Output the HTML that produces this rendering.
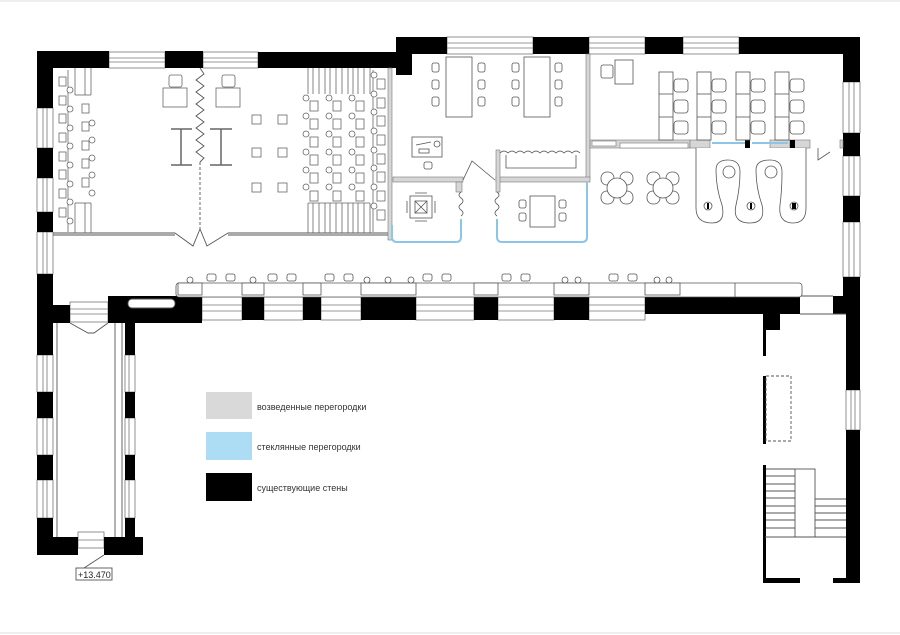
<!DOCTYPE html>
<html><head><meta charset="utf-8"><style>
html,body{margin:0;padding:0;background:#fff}
svg{display:block}
text{font-family:"Liberation Sans",sans-serif}
</style></head><body>
<svg width="900" height="635" viewBox="0 0 900 635" xmlns="http://www.w3.org/2000/svg">
<rect width="900" height="635" fill="#fff"/>
<line x1="0" y1="1" x2="900" y2="1" stroke="#ddd"/>
<line x1="0" y1="633" x2="900" y2="633" stroke="#ddd"/>

<!-- windows (white with lines) -->
<g fill="#fff" stroke="#777" stroke-width="0.8">
<rect x="109" y="52" width="56" height="16"/><line x1="109" y1="58" x2="165" y2="58"/><line x1="109" y1="62" x2="165" y2="62"/>
<rect x="203" y="52" width="55" height="16"/><line x1="203" y1="58" x2="258" y2="58"/><line x1="203" y1="62" x2="258" y2="62"/>
<rect x="447" y="37" width="86" height="17"/><line x1="447" y1="43" x2="533" y2="43"/><line x1="447" y1="48" x2="533" y2="48"/>
<rect x="589" y="37" width="56" height="17"/><line x1="589" y1="43" x2="645" y2="43"/><line x1="589" y1="48" x2="645" y2="48"/>
<rect x="683" y="37" width="56" height="17"/><line x1="683" y1="43" x2="739" y2="43"/><line x1="683" y1="48" x2="739" y2="48"/>
<!-- left wall windows -->
<rect x="37" y="108" width="16" height="40"/><line x1="43" y1="108" x2="43" y2="148"/><line x1="47" y1="108" x2="47" y2="148"/>
<rect x="37" y="178" width="16" height="34"/><line x1="43" y1="178" x2="43" y2="212"/><line x1="47" y1="178" x2="47" y2="212"/>
<rect x="37" y="232" width="16" height="42"/><line x1="43" y1="232" x2="43" y2="274"/><line x1="47" y1="232" x2="47" y2="274"/>
<!-- right wall windows -->
<rect x="843" y="82" width="17" height="51"/><line x1="849" y1="82" x2="849" y2="133"/><line x1="854" y1="82" x2="854" y2="133"/>
<rect x="843" y="156" width="17" height="40"/><line x1="849" y1="156" x2="849" y2="196"/><line x1="854" y1="156" x2="854" y2="196"/>
<rect x="843" y="222" width="17" height="55"/><line x1="849" y1="222" x2="849" y2="277"/><line x1="854" y1="222" x2="854" y2="277"/>
<rect x="846" y="390" width="14" height="40"/><line x1="851" y1="390" x2="851" y2="430"/><line x1="855" y1="390" x2="855" y2="430"/>
<!-- corridor south windows -->
<rect x="70" y="302" width="38" height="20"/><line x1="70" y1="309" x2="108" y2="309"/><line x1="70" y1="314" x2="108" y2="314"/>
<rect x="202" y="297" width="40" height="23"/><line x1="202" y1="305" x2="242" y2="305"/><line x1="202" y1="311" x2="242" y2="311"/>
<rect x="264" y="297" width="39" height="23"/><line x1="264" y1="305" x2="303" y2="305"/><line x1="264" y1="311" x2="303" y2="311"/>
<rect x="321" y="297" width="40" height="23"/><line x1="321" y1="305" x2="361" y2="305"/><line x1="321" y1="311" x2="361" y2="311"/>
<rect x="416" y="297" width="58" height="23"/><line x1="416" y1="305" x2="474" y2="305"/><line x1="416" y1="311" x2="474" y2="311"/>
<rect x="498" y="297" width="56" height="23"/><line x1="498" y1="305" x2="554" y2="305"/><line x1="498" y1="311" x2="554" y2="311"/>
<rect x="589" y="297" width="56" height="23"/><line x1="589" y1="305" x2="645" y2="305"/><line x1="589" y1="311" x2="645" y2="311"/>
<!-- lower-left wing windows -->
<rect x="37" y="355" width="16" height="37"/><line x1="43" y1="355" x2="43" y2="392"/><line x1="47" y1="355" x2="47" y2="392"/>
<rect x="37" y="418" width="16" height="37"/><line x1="43" y1="418" x2="43" y2="455"/><line x1="47" y1="418" x2="47" y2="455"/>
<rect x="37" y="480" width="16" height="38"/><line x1="43" y1="480" x2="43" y2="518"/><line x1="47" y1="480" x2="47" y2="518"/>
<rect x="125" y="355" width="10" height="37"/><line x1="129" y1="355" x2="129" y2="392"/>
<rect x="125" y="418" width="10" height="37"/><line x1="129" y1="418" x2="129" y2="455"/>
<rect x="125" y="480" width="10" height="38"/><line x1="129" y1="480" x2="129" y2="518"/>
<rect x="78" y="532" width="26" height="16"/><line x1="78" y1="540" x2="104" y2="540"/>
</g>

<!-- black existing walls -->
<g fill="#000">
<rect x="37" y="51" width="72" height="17"/>
<rect x="165" y="51" width="38" height="17"/>
<rect x="258" y="52" width="154" height="16"/>
<rect x="396" y="37" width="51" height="17"/>
<rect x="396" y="37" width="16" height="38"/>
<rect x="533" y="37" width="56" height="17"/>
<rect x="645" y="37" width="38" height="17"/>
<rect x="739" y="37" width="121" height="17"/>
<rect x="37" y="51" width="16" height="57"/>
<rect x="37" y="148" width="16" height="30"/>
<rect x="37" y="212" width="16" height="20"/>
<rect x="37" y="274" width="16" height="50"/>
<rect x="37" y="305" width="33" height="18"/>
<rect x="108" y="296" width="94" height="27"/>
<rect x="242" y="296" width="22" height="24"/>
<rect x="303" y="296" width="18" height="24"/>
<rect x="361" y="296" width="55" height="24"/>
<rect x="474" y="296" width="24" height="24"/>
<rect x="554" y="296" width="35" height="24"/>
<rect x="645" y="296" width="155" height="18"/>
<rect x="833" y="296" width="27" height="18"/>
<rect x="763" y="313" width="17" height="17"/>
<rect x="843" y="37" width="17" height="45"/>
<rect x="843" y="133" width="17" height="23"/>
<rect x="843" y="196" width="17" height="26"/>
<rect x="843" y="277" width="17" height="37"/>
<rect x="846" y="296" width="14" height="94"/>
<rect x="846" y="430" width="14" height="153"/>
<rect x="763" y="578" width="37" height="5"/>
<rect x="833" y="578" width="27" height="5"/>
<rect x="763" y="315" width="3" height="41"/>
<rect x="763" y="376" width="3" height="68"/>
<rect x="763" y="465" width="3" height="118"/>
<!-- lower-left wing -->
<rect x="37" y="323" width="16" height="32"/>
<rect x="37" y="392" width="16" height="26"/>
<rect x="37" y="455" width="16" height="25"/>
<rect x="37" y="518" width="16" height="37"/>
<rect x="37" y="537" width="41" height="18"/>
<rect x="104" y="537" width="39" height="18"/>
<rect x="125" y="323" width="10" height="32"/>
<rect x="125" y="392" width="10" height="26"/>
<rect x="125" y="455" width="10" height="25"/>
<rect x="125" y="518" width="10" height="19"/>
</g>

<!-- interior lines -->
<g fill="none" stroke="#555" stroke-width="0.9">
<rect x="128" y="299" width="47" height="9" rx="4" fill="#fff"/>
<line x1="53" y1="233" x2="175" y2="233"/><line x1="53" y1="235" x2="175" y2="235"/>
<line x1="228" y1="233" x2="390" y2="233"/><line x1="228" y1="235" x2="390" y2="235"/>
<polyline points="175,233 193,246 200,229 207,246 228,233"/>
<line x1="200" y1="162" x2="200" y2="229" stroke-dasharray="3,2"/>
<polyline points="200,68 204,74 196,80 204,86 196,92 204,98 196,104 204,110 196,116 204,122 196,128 204,134 196,140 204,146 196,152 204,158 200,162"/>
<!-- lower-left wing interior -->
<line x1="57" y1="323" x2="57" y2="537"/><line x1="115" y1="323" x2="115" y2="537"/><line x1="122" y1="323" x2="122" y2="537"/>
<polyline points="70,323 88,333 94,333 108,323"/>
<!-- stair right -->
<line x1="765" y1="537" x2="846" y2="537"/>
<rect x="795" y="469" width="20" height="68"/>
<line x1="766" y1="469" x2="795" y2="469"/><line x1="766" y1="476" x2="795" y2="476"/><line x1="766" y1="484" x2="795" y2="484"/><line x1="766" y1="491" x2="795" y2="491"/><line x1="766" y1="498" x2="795" y2="498"/><line x1="766" y1="506" x2="795" y2="506"/><line x1="766" y1="513" x2="795" y2="513"/><line x1="766" y1="520" x2="795" y2="520"/><line x1="766" y1="528" x2="795" y2="528"/>
<line x1="815" y1="499" x2="846" y2="499"/><line x1="815" y1="506" x2="846" y2="506"/><line x1="815" y1="513" x2="846" y2="513"/><line x1="815" y1="520" x2="846" y2="520"/><line x1="815" y1="528" x2="846" y2="528"/>
<rect x="766" y="376" width="25" height="65" stroke-dasharray="3,2"/>
<line x1="800" y1="296" x2="833" y2="296"/><line x1="800" y1="314" x2="846" y2="314"/>
<!-- elevation label -->
<polyline points="104,555 84,568"/>
<rect x="76" y="568" width="36" height="12" fill="#fff"/>
</g>
<text x="78" y="578" font-size="9" fill="#222">+13.470</text>

<!-- corridor desks -->
<g fill="#fff" stroke="#555" stroke-width="0.8">
<rect x="176" y="283" width="626" height="14" rx="3"/>
<rect x="178" y="283" width="24" height="12"/><rect x="242" y="283" width="22" height="12"/><rect x="303" y="283" width="18" height="12"/>
<rect x="361" y="283" width="55" height="12"/><rect x="474" y="283" width="24" height="12"/><rect x="554" y="283" width="35" height="12"/><rect x="645" y="283" width="35" height="12"/>
<line x1="735" y1="283" x2="735" y2="297"/>
<circle cx="190" cy="280" r="3"/><circle cx="253" cy="280" r="3"/><circle cx="367" cy="280" r="3"/><circle cx="388" cy="280" r="3"/><circle cx="411" cy="280" r="3"/><circle cx="565" cy="280" r="3"/><circle cx="578" cy="280" r="3"/><circle cx="657" cy="280" r="3"/><circle cx="669" cy="280" r="3"/>
<rect x="207" y="274" width="9" height="7" rx="2"/><rect x="226" y="274" width="9" height="7" rx="2"/>
<rect x="268" y="274" width="9" height="7" rx="2"/><rect x="287" y="274" width="9" height="7" rx="2"/>
<rect x="325" y="274" width="9" height="7" rx="2"/><rect x="344" y="274" width="9" height="7" rx="2"/>
<rect x="423" y="274" width="9" height="7" rx="2"/><rect x="442" y="274" width="9" height="7" rx="2"/>
<rect x="502" y="274" width="9" height="7" rx="2"/><rect x="521" y="274" width="9" height="7" rx="2"/>
<rect x="609" y="274" width="9" height="7" rx="2"/><rect x="628" y="274" width="9" height="7" rx="2"/>
</g>

<!-- left room furniture -->
<g fill="#fff" stroke="#666" stroke-width="0.8">
<line x1="75" y1="68" x2="75" y2="95"/><line x1="85" y1="68" x2="85" y2="95"/><line x1="91" y1="68" x2="91" y2="95"/><line x1="75" y1="95" x2="91" y2="95"/>
<line x1="75" y1="203" x2="75" y2="233"/><line x1="85" y1="203" x2="85" y2="233"/><line x1="91" y1="203" x2="91" y2="233"/><line x1="75" y1="203" x2="91" y2="203"/>
<line x1="68" y1="70" x2="68" y2="232"/>
<rect x="59" y="77" width="7" height="9"/><rect x="59" y="96" width="7" height="9"/><rect x="59" y="114" width="7" height="9"/><rect x="59" y="133" width="7" height="9"/><rect x="59" y="152" width="7" height="9"/><rect x="59" y="170" width="7" height="9"/><rect x="59" y="189" width="7" height="9"/><rect x="59" y="208" width="7" height="9"/>
<circle cx="70" cy="90" r="3"/><circle cx="70" cy="109" r="3"/><circle cx="70" cy="128" r="3"/><circle cx="70" cy="146" r="3"/><circle cx="70" cy="165" r="3"/><circle cx="70" cy="184" r="3"/><circle cx="70" cy="202" r="3"/><circle cx="70" cy="221" r="3"/>
<rect x="82" y="104" width="7" height="9"/><rect x="82" y="122" width="7" height="9"/><rect x="82" y="141" width="7" height="9"/><rect x="82" y="159" width="7" height="9"/><rect x="82" y="178" width="7" height="9"/>
<circle cx="92" cy="123" r="3"/><circle cx="92" cy="140" r="3"/><circle cx="92" cy="158" r="3"/><circle cx="92" cy="175" r="3"/><circle cx="92" cy="193" r="3"/>
<rect x="163" y="88" width="24" height="19"/><rect x="169" y="75" width="13" height="12" rx="2"/>
<rect x="216" y="88" width="24" height="19"/><rect x="222" y="75" width="13" height="12" rx="2"/>
<rect x="252" y="115" width="9" height="9"/><rect x="278" y="115" width="9" height="9"/>
<rect x="252" y="148" width="9" height="9"/><rect x="278" y="148" width="9" height="9"/>
<rect x="252" y="183" width="9" height="9"/><rect x="278" y="183" width="9" height="9"/>
</g>
<g stroke="#666" stroke-width="1.5" fill="none">
<line x1="171" y1="129" x2="192" y2="129"/><line x1="181" y1="129" x2="181" y2="165"/><line x1="171" y1="165" x2="192" y2="165"/>
<line x1="210" y1="129" x2="232" y2="129"/><line x1="221" y1="129" x2="221" y2="165"/><line x1="210" y1="165" x2="232" y2="165"/>
</g>
<g fill="#fff" stroke="#666" stroke-width="0.8">
<line x1="308" y1="68" x2="308" y2="94"/><line x1="313" y1="68" x2="313" y2="94"/><line x1="319" y1="68" x2="319" y2="94"/><line x1="325" y1="68" x2="325" y2="94"/>
<line x1="330" y1="68" x2="330" y2="94"/><line x1="336" y1="68" x2="336" y2="94"/><line x1="342" y1="68" x2="342" y2="94"/><line x1="348" y1="68" x2="348" y2="94"/>
<line x1="353" y1="68" x2="353" y2="94"/><line x1="358" y1="68" x2="358" y2="94"/><line x1="364" y1="68" x2="364" y2="94"/><line x1="370" y1="68" x2="370" y2="94"/>
<line x1="308" y1="203" x2="308" y2="233"/><line x1="313" y1="203" x2="313" y2="233"/><line x1="319" y1="203" x2="319" y2="233"/><line x1="325" y1="203" x2="325" y2="233"/>
<line x1="330" y1="203" x2="330" y2="233"/><line x1="336" y1="203" x2="336" y2="233"/><line x1="342" y1="203" x2="342" y2="233"/><line x1="348" y1="203" x2="348" y2="233"/>
<line x1="353" y1="203" x2="353" y2="233"/><line x1="358" y1="203" x2="358" y2="233"/><line x1="364" y1="203" x2="364" y2="233"/><line x1="370" y1="203" x2="370" y2="233"/>
<line x1="308" y1="203" x2="370" y2="203"/><line x1="373" y1="70" x2="373" y2="232"/>
<rect x="310" y="101" width="8" height="10"/><rect x="310" y="119" width="8" height="10"/><rect x="310" y="137" width="8" height="10"/><rect x="310" y="155" width="8" height="10"/><rect x="310" y="173" width="8" height="10"/><rect x="310" y="191" width="8" height="10"/>
<rect x="333" y="101" width="8" height="10"/><rect x="333" y="119" width="8" height="10"/><rect x="333" y="137" width="8" height="10"/><rect x="333" y="155" width="8" height="10"/><rect x="333" y="173" width="8" height="10"/><rect x="333" y="191" width="8" height="10"/>
<rect x="356" y="101" width="8" height="10"/><rect x="356" y="119" width="8" height="10"/><rect x="356" y="137" width="8" height="10"/><rect x="356" y="155" width="8" height="10"/><rect x="356" y="173" width="8" height="10"/><rect x="356" y="191" width="8" height="10"/>
<circle cx="306" cy="98" r="3"/><circle cx="306" cy="116" r="3"/><circle cx="306" cy="134" r="3"/><circle cx="306" cy="152" r="3"/><circle cx="306" cy="170" r="3"/><circle cx="306" cy="187" r="3"/>
<circle cx="329" cy="98" r="3"/><circle cx="329" cy="116" r="3"/><circle cx="329" cy="134" r="3"/><circle cx="329" cy="152" r="3"/><circle cx="329" cy="170" r="3"/><circle cx="329" cy="187" r="3"/>
<circle cx="352" cy="98" r="3"/><circle cx="352" cy="116" r="3"/><circle cx="352" cy="134" r="3"/><circle cx="352" cy="152" r="3"/><circle cx="352" cy="170" r="3"/><circle cx="352" cy="187" r="3"/>
<rect x="377" y="79" width="8" height="10"/><rect x="377" y="98" width="8" height="10"/><rect x="377" y="116" width="8" height="10"/><rect x="377" y="135" width="8" height="10"/><rect x="377" y="154" width="8" height="10"/><rect x="377" y="172" width="8" height="10"/><rect x="377" y="191" width="8" height="10"/><rect x="377" y="210" width="8" height="10"/>
<circle cx="374" cy="75" r="3"/><circle cx="374" cy="94" r="3"/><circle cx="374" cy="112" r="3"/><circle cx="374" cy="131" r="3"/><circle cx="374" cy="150" r="3"/><circle cx="374" cy="168" r="3"/><circle cx="374" cy="187" r="3"/><circle cx="374" cy="206" r="3"/>
</g>

<!-- partitions (gray) -->
<g fill="#d6d6d6" stroke="#777" stroke-width="0.6">
<rect x="388" y="68" width="4" height="172"/>
<rect x="586" y="54" width="4" height="124"/>
<rect x="393" y="177" width="70" height="5"/>
<rect x="456" y="182" width="6" height="10"/>
<rect x="496" y="177" width="94" height="5"/>
<rect x="496" y="150" width="4" height="42"/>
<rect x="590" y="140" width="100" height="8"/>
<rect x="690" y="140" width="20" height="8"/>
<rect x="770" y="140" width="20" height="8"/>
<rect x="790" y="140" width="20" height="8"/>
<rect x="840" y="140" width="3" height="8"/>
</g>
<g fill="#fff" stroke="#777" stroke-width="0.6">
<rect x="592" y="141" width="24" height="5"/><rect x="620" y="143" width="68" height="5"/>
</g>
<rect x="745" y="140" width="5" height="9" fill="#000"/><rect x="790" y="140" width="5" height="9" fill="#000"/>
<g stroke="#8cc6e6" stroke-width="2" fill="none">
<line x1="712" y1="143" x2="745" y2="143"/><line x1="752" y1="143" x2="788" y2="143"/>
<path d="M392,225 V237 Q392,242 397,242 H456 Q461,242 461,237 V219"/>
<path d="M497,219 V237 Q497,242 502,242 H582 Q587,242 587,237 V182"/>
</g>
<g fill="none" stroke="#555" stroke-width="0.8">
<path d="M461,192 q-4,3 0,6 q4,3 0,6 q-4,3 0,6 q4,3 0,6"/>
<path d="M497,192 q4,3 0,6 q-4,3 0,6 q4,3 0,6 q-4,3 0,6"/>
<polyline points="463,180 472,161 495,180"/>
<path d="M500,153 q4,-4 8,0 q4,-4 8,0 q4,-4 8,0 q4,-4 8,0 q4,-4 8,0 q4,-4 8,0 q4,-4 8,0 q4,-4 8,0 q4,-4 8,0 q4,-4 8,0"/>
<polyline points="506,155 506,168 576,168 576,155"/>
<path d="M818,148 V160 L830,152"/>
</g>

<!-- middle room furniture -->
<g fill="#fff" stroke="#555" stroke-width="0.8">
<rect x="446" y="57" width="26" height="60"/><rect x="524" y="57" width="26" height="60"/>
<rect x="432" y="63" width="7" height="9" rx="2"/><rect x="432" y="80" width="7" height="9" rx="2"/><rect x="432" y="97" width="7" height="9" rx="2"/>
<rect x="478" y="63" width="7" height="9" rx="2"/><rect x="478" y="80" width="7" height="9" rx="2"/><rect x="478" y="97" width="7" height="9" rx="2"/>
<rect x="512" y="63" width="7" height="9" rx="2"/><rect x="512" y="80" width="7" height="9" rx="2"/><rect x="512" y="97" width="7" height="9" rx="2"/>
<rect x="555" y="63" width="7" height="9" rx="2"/><rect x="555" y="80" width="7" height="9" rx="2"/><rect x="555" y="97" width="7" height="9" rx="2"/>
<rect x="412" y="137" width="30" height="20"/><rect x="419" y="149" width="10" height="4"/><circle cx="437" cy="144" r="3"/><line x1="416" y1="145" x2="431" y2="142"/>
<rect x="424" y="162" width="8" height="7" rx="2"/>
<rect x="410" y="196" width="22" height="22"/><rect x="415" y="201" width="12" height="12"/><line x1="415" y1="201" x2="427" y2="213"/><line x1="427" y1="201" x2="415" y2="213"/>
<path d="M415,193 h12 M415,221 h12 M407,201 v12 M435,201 v12"/>
<rect x="530" y="196" width="25" height="31"/>
<rect x="519" y="200" width="7" height="8" rx="2"/><rect x="519" y="213" width="7" height="8" rx="2"/>
<rect x="559" y="200" width="7" height="8" rx="2"/><rect x="559" y="213" width="7" height="8" rx="2"/>
</g>

<!-- right room -->
<g fill="#fff" stroke="#555" stroke-width="0.8">
<rect x="615" y="60" width="18" height="24"/><rect x="601" y="65" width="12" height="13" rx="2"/>
<rect x="659" y="72" width="14" height="68"/><line x1="659" y1="94" x2="673" y2="94"/><line x1="659" y1="117" x2="673" y2="117"/>
<rect x="697" y="72" width="14" height="68"/><line x1="697" y1="94" x2="711" y2="94"/><line x1="697" y1="117" x2="711" y2="117"/>
<rect x="736" y="72" width="14" height="68"/><line x1="736" y1="94" x2="750" y2="94"/><line x1="736" y1="117" x2="750" y2="117"/>
<rect x="775" y="72" width="14" height="68"/><line x1="775" y1="94" x2="789" y2="94"/><line x1="775" y1="117" x2="789" y2="117"/>
<rect x="674" y="79" width="14" height="13" rx="3"/><rect x="674" y="100" width="14" height="13" rx="3"/><rect x="674" y="121" width="14" height="13" rx="3"/>
<rect x="712" y="79" width="14" height="13" rx="3"/><rect x="712" y="100" width="14" height="13" rx="3"/><rect x="712" y="121" width="14" height="13" rx="3"/>
<rect x="751" y="79" width="14" height="13" rx="3"/><rect x="751" y="100" width="14" height="13" rx="3"/><rect x="751" y="121" width="14" height="13" rx="3"/>
<rect x="790" y="79" width="14" height="13" rx="3"/><rect x="790" y="100" width="14" height="13" rx="3"/><rect x="790" y="121" width="14" height="13" rx="3"/>
<!-- round tables -->
<g transform="translate(617,188)"><rect x="-16" y="-16" width="13" height="13" rx="6"/><rect x="3" y="-16" width="13" height="13" rx="6"/><rect x="-16" y="3" width="13" height="13" rx="6"/><rect x="3" y="3" width="13" height="13" rx="6"/><circle r="10"/></g>
<g transform="translate(663,188)"><rect x="-16" y="-16" width="13" height="13" rx="6"/><rect x="3" y="-16" width="13" height="13" rx="6"/><rect x="-16" y="3" width="13" height="13" rx="6"/><rect x="3" y="3" width="13" height="13" rx="6"/><circle r="10"/></g>
<path d="M696,148 L696,208 Q696,223 712,223 Q726,223 722,205 Q716,188 716,170 Q716,160 728,160 Q740,160 740,172 Q740,188 736,205 Q732,223 750,223 Q766,223 762,205 Q756,188 756,170 Q756,160 770,160 Q782,160 782,172 Q782,190 780,205 Q778,223 793,223 Q806,223 806,208 L806,148"/>
<circle cx="729" cy="172" r="6"/><circle cx="771" cy="172" r="6"/>
<circle cx="708" cy="206" r="4"/><circle cx="751" cy="206" r="4"/><circle cx="794" cy="206" r="4"/>
</g>
<rect x="707" y="203" width="2" height="6" fill="#000"/><rect x="750" y="203" width="2" height="6" fill="#000"/><rect x="792" y="203" width="4" height="6" fill="#000"/>

<!-- legend -->
<rect x="206" y="392" width="46" height="27" fill="#d9d9d9"/>
<rect x="206" y="432" width="46" height="28" fill="#addcf5"/>
<rect x="206" y="473" width="46" height="28" fill="#000"/>
<g font-size="9" fill="#333">
<text x="257" y="410">возведенные перегородки</text>
<text x="257" y="450">стеклянные перегородки</text>
<text x="257" y="491">существующие стены</text>
</g>
</svg>
</body></html>
